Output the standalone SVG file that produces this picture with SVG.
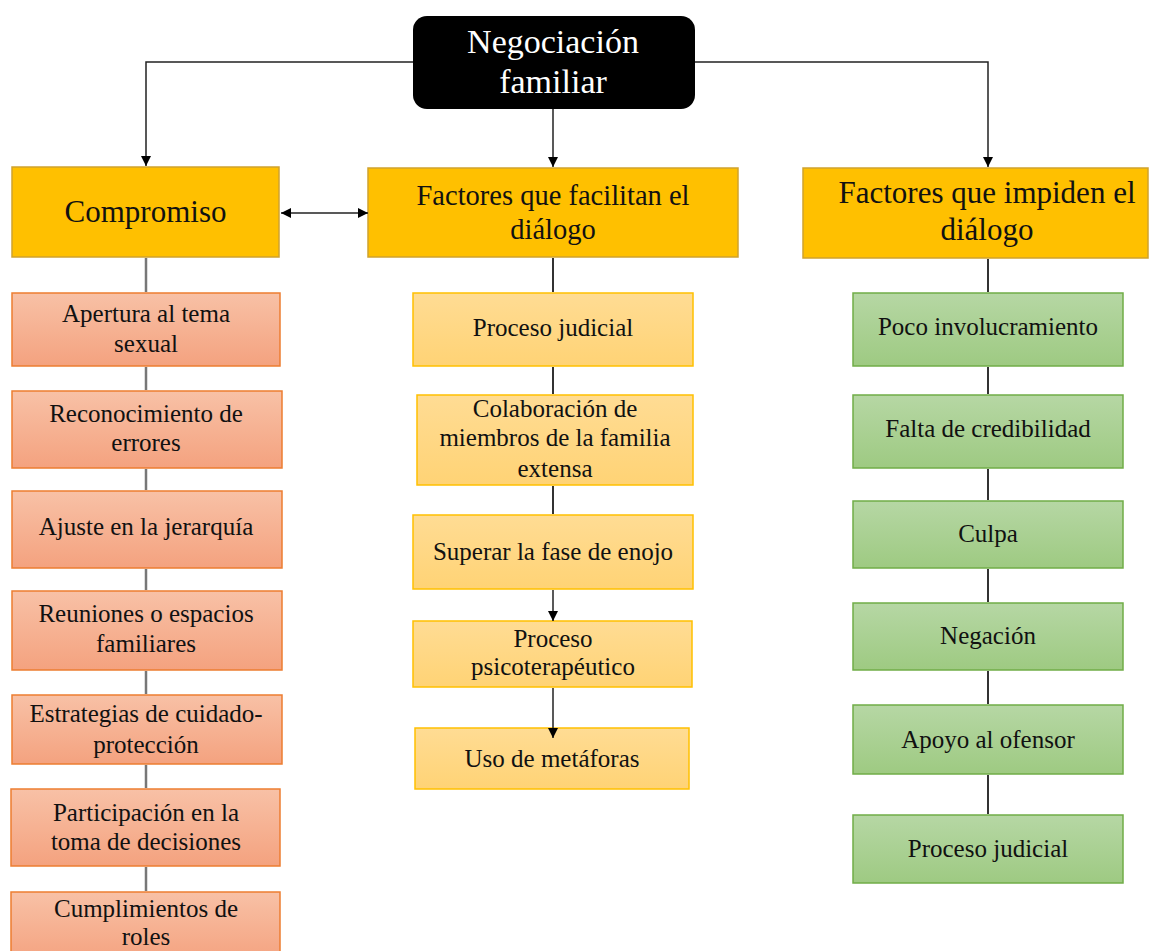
<svg xmlns="http://www.w3.org/2000/svg" width="1159" height="951" viewBox="0 0 1159 951">
<defs>
<marker id="arr" viewBox="0 0 10 10" refX="10" refY="5" markerWidth="10" markerHeight="10" markerUnits="userSpaceOnUse" orient="auto-start-reverse">
<path d="M0,0 L10,5 L0,10 z" fill="#000"/>
</marker>
<linearGradient id="gOr" x1="0" y1="0" x2="0" y2="1">
<stop offset="0" stop-color="#F8C1A6"/><stop offset="1" stop-color="#F4A27F"/>
</linearGradient>
<linearGradient id="gYe" x1="0" y1="0" x2="0" y2="1">
<stop offset="0" stop-color="#FFDC94"/><stop offset="1" stop-color="#FFD375"/>
</linearGradient>
<linearGradient id="gGr" x1="0" y1="0" x2="0" y2="1">
<stop offset="0" stop-color="#B6D7A4"/><stop offset="1" stop-color="#9ECA82"/>
</linearGradient>
</defs>
<style>
text{font-family:'Liberation Serif','Times New Roman',Tinos,'DejaVu Serif',serif;text-anchor:middle;fill:#111}
.s{font-size:25px}
.h{font-size:31px}
.t{font-size:34px;fill:#fff}
.hd{fill:#FFC000;stroke:#CFA22E;stroke-width:1.5}
.or{fill:url(#gOr);stroke:#ED7D31;stroke-width:1.5}
.ye{fill:url(#gYe);stroke:#FFC000;stroke-width:1.5}
.gr{fill:url(#gGr);stroke:#70AD47;stroke-width:1.5}
.ln{fill:none;stroke:#222;stroke-width:1.5}
.lg{fill:none;stroke:#777;stroke-width:2.5}
.ld{fill:none;stroke:#333;stroke-width:2}
</style>
<rect width="1159" height="951" fill="#fff"/>
<g id="n-negociacion">
<rect x="413" y="16" width="282" height="93" rx="14" fill="#000"/>
<text class="t" x="553" y="53">Negociación</text>
<text class="t" x="553" y="93">familiar</text>
</g>
<g id="n-compromiso">
<rect class="hd" x="12" y="167" width="267" height="90"/>
<text class="h" x="145.5" y="222">Compromiso</text>
</g>
<g id="n-facilitan">
<rect class="hd" x="368" y="168" width="370" height="89"/>
<text class="h" x="553" y="205" style="font-size:28.5px">Factores que facilitan el</text>
<text class="h" x="553" y="239" style="font-size:28.5px">diálogo</text>
</g>
<g id="n-impiden">
<rect class="hd" x="803" y="168" width="345" height="90"/>
<text class="h" x="987" y="203">Factores que impiden el</text>
<text class="h" x="987" y="240">diálogo</text>
</g>
<g id="n-apertura">
<rect class="or" x="12" y="293" width="268" height="73"/>
<text class="s" x="146" y="322">Apertura al tema</text>
<text class="s" x="146" y="352">sexual</text>
</g>
<g id="n-reconocimiento">
<rect class="or" x="12" y="391" width="270" height="77"/>
<text class="s" x="146" y="422">Reconocimiento de</text>
<text class="s" x="146" y="451">errores</text>
</g>
<g id="n-ajuste">
<rect class="or" x="12" y="491" width="270" height="77"/>
<text class="s" x="146" y="535">Ajuste en la jerarquía</text>
</g>
<g id="n-reuniones">
<rect class="or" x="12" y="591" width="270" height="79"/>
<text class="s" x="146" y="622">Reuniones o espacios</text>
<text class="s" x="146" y="652">familiares</text>
</g>
<g id="n-estrategias">
<rect class="or" x="12" y="695" width="270" height="69"/>
<text class="s" x="146" y="722">Estrategias de cuidado-</text>
<text class="s" x="146" y="753">protección</text>
</g>
<g id="n-participacion">
<rect class="or" x="11" y="789" width="269" height="77"/>
<text class="s" x="146" y="821">Participación en la</text>
<text class="s" x="146" y="850">toma de decisiones</text>
</g>
<g id="n-cumplimientos">
<rect class="or" x="11" y="892" width="269" height="70"/>
<text class="s" x="146" y="917">Cumplimientos de</text>
<text class="s" x="146" y="945">roles</text>
</g>
<g id="n-proceso-judicial-1">
<rect class="ye" x="413" y="293" width="280" height="73"/>
<text class="s" x="553" y="336">Proceso judicial</text>
</g>
<g id="n-colaboracion">
<rect class="ye" x="417" y="395" width="276" height="90"/>
<text class="s" x="555" y="417">Colaboración de</text>
<text class="s" x="555" y="446">miembros de la familia</text>
<text class="s" x="555" y="477">extensa</text>
</g>
<g id="n-superar">
<rect class="ye" x="413" y="515" width="280" height="74"/>
<text class="s" x="553" y="560">Superar la fase de enojo</text>
</g>
<g id="n-psicoterapeutico">
<rect class="ye" x="413" y="621" width="279" height="66"/>
<text class="s" x="553" y="647">Proceso</text>
<text class="s" x="553" y="675">psicoterapéutico</text>
</g>
<g id="n-metaforas">
<rect class="ye" x="415" y="728" width="274" height="61"/>
<text class="s" x="552" y="767">Uso de metáforas</text>
</g>
<g id="n-poco">
<rect class="gr" x="853" y="293" width="270" height="73"/>
<text class="s" x="988" y="335">Poco involucramiento</text>
</g>
<g id="n-falta">
<rect class="gr" x="853" y="395" width="270" height="73"/>
<text class="s" x="988" y="437">Falta de credibilidad</text>
</g>
<g id="n-culpa">
<rect class="gr" x="853" y="501" width="270" height="67"/>
<text class="s" x="988" y="542">Culpa</text>
</g>
<g id="n-negacion">
<rect class="gr" x="853" y="603" width="270" height="67"/>
<text class="s" x="988" y="644">Negación</text>
</g>
<g id="n-apoyo">
<rect class="gr" x="853" y="705" width="270" height="69"/>
<text class="s" x="988" y="748">Apoyo al ofensor</text>
</g>
<g id="n-proceso-judicial-2">
<rect class="gr" x="853" y="815" width="270" height="68"/>
<text class="s" x="988" y="857">Proceso judicial</text>
</g>
<g id="connectors">
<path class="ln" d="M413,62 H146 V166" marker-end="url(#arr)"/>
<path class="ln" d="M695,62 H988 V167" marker-end="url(#arr)"/>
<path class="ln" d="M553,109 V167" marker-end="url(#arr)"/>
<path class="ln" d="M281,213 H368" marker-start="url(#arr)" marker-end="url(#arr)"/>
<path class="lg" d="M146,258 V292 M146,367 V390 M146,469 V490 M146,569 V590 M146,671 V694 M146,765 V788 M146,867 V891"/>
<path class="ld" d="M553,258 V292 M553,367 V394 M553,486 V514"/>
<path class="ln" d="M553,590 V621" marker-end="url(#arr)"/>
<path class="ln" d="M553,688 V738" marker-end="url(#arr)"/>
<path class="ld" d="M988,259 V292 M988,367 V394 M988,469 V500 M988,569 V602 M988,671 V704 M988,775 V814"/>
</g>
</svg>
